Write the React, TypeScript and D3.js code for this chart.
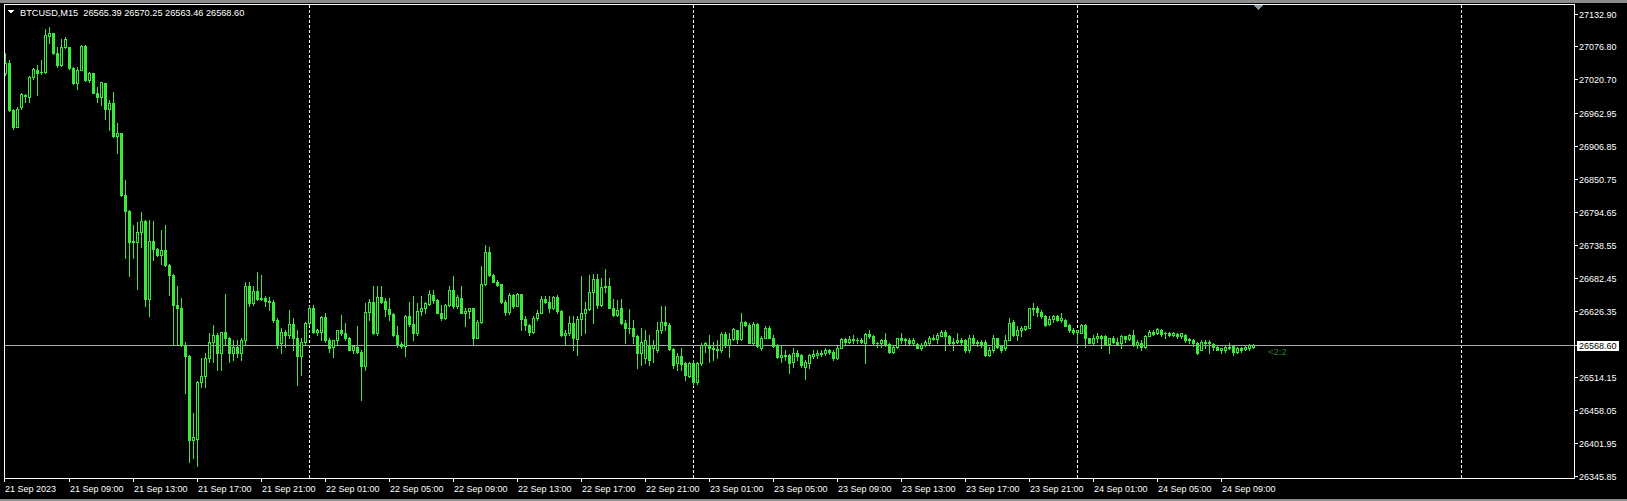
import React from "react";
import * as d3 from "d3";

// ---- data (BTCUSD M15, bar 0 = 21 Sep 2023 05:00) ----
const symbolTitle = "BTCUSD,M15";
const lastOHLC = ["26565.39", "26570.25", "26563.46", "26568.60"];

const openP: number[] = [
  27031,27048,26968,26940,26973,26992,26991,27024,27036,27033,27034,27095,27099,27065,27045,27076,27075,27040,27014,27037,
  27078,27020,27031,26998,26990,27014,26971,26981,26924,26929,26824,26797,26744,26744,26760,26779,26646,26746,26731,26722,
  26730,26705,26687,26636,26632,26568,26550,26406,26409,26506,26515,26546,26574,26585,26555,26590,26580,26555,26565,26555,
  26576,26668,26639,26661,26646,26649,26644,26642,26611,26572,26590,26585,26604,26580,26550,26574,26605,26631,26591,26591,
  26616,26577,26565,26576,26593,26588,26581,26560,26565,26557,26533,26625,26642,26588,26650,26644,26629,26621,26585,26570,
  26567,26618,26604,26589,26627,26632,26638,26653,26645,26623,26614,26636,26662,26635,26648,26623,26627,26631,26581,26608,
  26672,26726,26688,26676,26672,26642,26625,26653,26635,26655,26613,26602,26591,26615,26623,26646,26642,26631,26650,26627,
  26585,26588,26606,26579,26612,26623,26629,26659,26680,26636,26667,26668,26632,26619,26631,26606,26598,26598,26584,26555,
  26546,26568,26563,26560,26594,26608,26602,26561,26537,26550,26537,26516,26537,26505,26537,26568,26568,26563,26561,26559,
  26587,26568,26578,26593,26578,26608,26602,26572,26604,26563,26581,26598,26581,26568,26548,26551,26551,26540,26554,26551,
  26531,26538,26550,26551,26553,26554,26559,26557,26546,26564,26578,26574,26578,26577,26577,26572,26587,26583,26571,26572,
  26576,26570,26557,26565,26580,26576,26577,26571,26570,26564,26568,26572,26580,26578,26584,26591,26583,26571,26574,26577,
  26577,26559,26580,26571,26574,26574,26551,26559,26580,26567,26563,26577,26608,26585,26594,26595,26598,26631,26631,26625,
  26618,26604,26612,26617,26611,26611,26602,26594,26591,26589,26602,26580,26572,26581,26584,26584,26570,26580,26574,26572,
  26583,26578,26585,26568,26572,26565,26584,26591,26588,26594,26588,26589,26585,26587,26584,26585,26576,26576,26572,26560,
  26574,26571,26570,26565,26560,26559,26565,26567,26557,26563,26561,26563,26565.39,
];
const highP: number[] = [
  27065,27054,26970,26973,26998,26996,27026,27040,27045,27054,27106,27110,27100,27076,27089,27093,27076,27041,27042,27079,
  27079,27034,27032,27008,27017,27015,26986,27000,26946,26930,26849,26798,26773,26777,26795,26781,26781,26780,26733,26764,
  26773,26707,26689,26668,26648,26574,26552,26452,26507,26546,26554,26588,26602,26588,26591,26656,26582,26577,26577,26580,
  26676,26676,26668,26693,26687,26652,26650,26645,26614,26597,26594,26628,26614,26594,26580,26608,26635,26636,26595,26618,
  26622,26580,26576,26594,26619,26605,26582,26568,26600,26560,26640,26646,26668,26668,26668,26648,26648,26622,26601,26574,
  26619,26642,26651,26639,26651,26642,26662,26662,26646,26636,26638,26668,26686,26653,26668,26631,26632,26632,26611,26702,
  26739,26736,26689,26679,26673,26645,26657,26655,26657,26656,26617,26604,26617,26628,26652,26652,26651,26652,26653,26628,
  26594,26617,26617,26618,26685,26642,26688,26690,26690,26682,26697,26682,26646,26645,26646,26611,26629,26611,26585,26597,
  26594,26585,26577,26608,26634,26634,26605,26563,26554,26563,26540,26540,26543,26540,26571,26574,26585,26574,26577,26591,
  26591,26589,26597,26594,26622,26610,26606,26608,26606,26583,26600,26600,26585,26570,26568,26559,26553,26563,26560,26553,
  26543,26553,26559,26559,26560,26563,26561,26559,26567,26580,26580,26583,26585,26580,26580,26588,26594,26585,26574,26578,
  26588,26571,26568,26581,26588,26581,26580,26581,26571,26571,26576,26583,26585,26588,26594,26594,26585,26580,26589,26580,
  26578,26585,26585,26577,26577,26576,26565,26585,26581,26568,26585,26614,26611,26600,26600,26601,26632,26639,26635,26628,
  26619,26617,26619,26619,26622,26612,26604,26597,26594,26604,26604,26581,26585,26589,26585,26585,26581,26583,26580,26585,
  26584,26587,26593,26576,26576,26585,26593,26594,26598,26595,26591,26591,26591,26589,26589,26587,26581,26578,26574,26576,
  26576,26576,26571,26568,26564,26567,26571,26568,26565,26565,26567,26570,26570.25,
];
const lowP: number[] = [
  27028,26966,26937,26939,26971,26983,26983,27022,26994,27030,27032,27082,27064,27042,27044,27074,27038,27012,27005,27036,
  27018,27017,26997,26983,26977,26954,26934,26923,26895,26822,26716,26685,26716,26663,26736,26634,26617,26713,26720,26707,
  26702,26653,26568,26568,26567,26486,26369,26375,26362,26497,26497,26540,26540,26526,26526,26568,26540,26543,26548,26543,
  26568,26634,26636,26645,26645,26634,26628,26608,26563,26555,26565,26580,26560,26500,26517,26568,26602,26588,26585,26577,
  26574,26557,26548,26568,26585,26577,26559,26554,26554,26475,26526,26611,26587,26585,26639,26617,26611,26584,26565,26563,
  26550,26601,26576,26585,26619,26622,26636,26639,26622,26611,26612,26634,26632,26631,26622,26601,26614,26570,26580,26606,
  26671,26685,26675,26668,26639,26619,26621,26632,26634,26594,26594,26585,26589,26611,26622,26639,26625,26629,26622,26583,
  26568,26585,26560,26551,26585,26588,26628,26605,26631,26634,26659,26631,26617,26617,26604,26571,26588,26571,26529,26534,
  26537,26534,26540,26557,26588,26594,26560,26529,26526,26526,26509,26514,26500,26502,26534,26557,26540,26543,26546,26557,
  26565,26548,26577,26571,26577,26600,26571,26570,26565,26560,26580,26580,26565,26546,26540,26543,26520,26531,26543,26531,
  26510,26529,26546,26546,26550,26551,26553,26543,26544,26563,26570,26571,26571,26571,26572,26537,26581,26568,26565,26565,
  26567,26555,26555,26564,26572,26570,26570,26568,26563,26560,26567,26570,26576,26572,26583,26560,26570,26560,26571,26568,
  26557,26557,26568,26567,26565,26550,26550,26557,26563,26557,26560,26576,26583,26576,26583,26594,26597,26619,26617,26615,
  26601,26602,26608,26610,26608,26600,26591,26587,26571,26588,26565,26571,26568,26574,26563,26568,26555,26571,26568,26563,
  26574,26576,26567,26563,26559,26563,26583,26585,26587,26584,26580,26584,26583,26581,26581,26574,26571,26567,26553,26559,
  26563,26555,26559,26559,26555,26557,26561,26551,26555,26557,26559,26560,26563.46,
];
const closeP: number[] = [
  27048,26968,26940,26971,26996,26994,27025,27038,27032,27034,27096,27099,27065,27045,27076,27090,27040,27014,27037,27078,
  27020,27032,26998,26990,27016,26971,26981,26924,26930,26824,26797,26743,26746,26761,26779,26646,26746,26731,26722,26730,
  26705,26687,26636,26632,26568,26550,26406,26412,26506,26515,26546,26574,26585,26555,26590,26580,26555,26565,26555,26576,
  26668,26639,26661,26646,26649,26644,26642,26611,26568,26590,26585,26604,26580,26550,26574,26605,26631,26591,26593,26616,
  26577,26564,26576,26593,26589,26580,26560,26567,26557,26533,26625,26642,26588,26650,26642,26629,26621,26585,26570,26567,
  26618,26604,26589,26627,26632,26639,26655,26645,26623,26614,26636,26662,26635,26650,26623,26627,26631,26581,26608,26673,
  26726,26688,26676,26671,26642,26625,26653,26635,26655,26613,26602,26591,26615,26623,26646,26642,26631,26650,26627,26585,
  26588,26606,26580,26612,26622,26629,26659,26680,26636,26667,26669,26632,26619,26628,26606,26598,26597,26584,26555,26574,
  26577,26543,26568,26594,26608,26602,26561,26534,26550,26536,26517,26537,26505,26537,26568,26571,26563,26561,26559,26587,
  26568,26578,26595,26578,26608,26602,26572,26604,26567,26581,26598,26581,26567,26548,26551,26550,26538,26554,26550,26534,
  26540,26551,26553,26555,26554,26560,26557,26546,26564,26578,26574,26578,26577,26576,26573,26587,26584,26571,26572,26576,
  26570,26557,26565,26580,26576,26578,26571,26577,26564,26568,26574,26580,26578,26585,26591,26583,26571,26574,26577,26574,
  26559,26581,26571,26574,26570,26551,26560,26580,26565,26560,26577,26606,26585,26594,26597,26600,26631,26629,26625,26618,
  26602,26612,26617,26611,26615,26601,26594,26591,26593,26602,26580,26572,26581,26584,26581,26570,26580,26574,26570,26583,
  26578,26585,26568,26574,26565,26584,26591,26587,26595,26587,26589,26585,26589,26584,26588,26576,26578,26572,26555,26574,
  26571,26574,26565,26560,26563,26565,26563,26557,26563,26560,26565,26568,26568.60,
];

const priceTicks = [
  "27132.90","27076.80","27020.70","26962.95","26906.85","26850.75","26794.65",
  "26738.55","26682.45","26626.35","26514.15","26458.05","26401.95","26345.85",
];
const currentPrice = 26568.6;

const timeLabels = [
  "21 Sep 2023","21 Sep 09:00","21 Sep 13:00","21 Sep 17:00","21 Sep 21:00",
  "22 Sep 01:00","22 Sep 05:00","22 Sep 09:00","22 Sep 13:00","22 Sep 17:00","22 Sep 21:00",
  "23 Sep 01:00","23 Sep 05:00","23 Sep 09:00","23 Sep 13:00","23 Sep 17:00","23 Sep 21:00",
  "24 Sep 01:00","24 Sep 05:00","24 Sep 09:00",
];
const labelBarStep = 16; // one label every 4 hours of M15 bars
const daySeparatorBars = [76, 172, 268, 364];

const W = 1627;
const H = 501;
const FRAME = { left: 4, top: 4, right: 1574, bottom: 478 };
const FONT = "'Liberation Sans', Arial, sans-serif";
const LIME = "#3ce83c";

export default function App() {
  const n = openP.length;
  const x = d3.scaleLinear().domain([0, n - 1]).range([5, 5 + 4 * (n - 1)]);
  const y = d3
    .scaleLinear()
    .domain([26345.85, 27132.9])
    .range([475.6, 13.5]);

  const candles = d3.range(n).map((i) => {
    const cx = Math.round(x(i));
    const o = openP[i], c = closeP[i];
    const top = Math.round(y(Math.max(o, c)));
    const bot = Math.round(y(Math.min(o, c)));
    const hi = Math.round(y(highP[i]));
    const lo = Math.round(y(lowP[i]));
    const bull = c > o;
    return (
      <g key={i}>
        <line x1={cx + 0.5} x2={cx + 0.5} y1={hi} y2={lo + 1} stroke={LIME} strokeWidth={1} />
        {bot - top >= 1 ? (
          <rect x={cx - 0.5} y={top + 0.5} width={2} height={bot - top} fill={bull ? "#000" : LIME} stroke={LIME} strokeWidth={1} />
        ) : (
          <line x1={cx - 1} x2={cx + 2} y1={top + 0.5} y2={top + 0.5} stroke={LIME} strokeWidth={1} />
        )}
      </g>
    );
  });

  const yCur = Math.round(y(currentPrice)) + 0.5;
  const lastX = Math.round(x(n - 1));

  return (
    <div style={{ position: "fixed", left: 0, top: 0, width: W, height: H, background: "#000" }}>
      <svg width={W} height={H} style={{ display: "block" }} shapeRendering="crispEdges">
        <rect x={0} y={0} width={W} height={H} fill="#000" />
        <rect x={0} y={0} width={W} height={3} fill="#8c8c8c" />
        <rect x={0} y={H - 2} width={W} height={2} fill="#8c8c8c" />

        {/* day separators */}
        {daySeparatorBars.map((b) => {
          const sx = Math.round(x(b)) + 0.5;
          return (
            <line key={b} x1={sx} x2={sx} y1={FRAME.top + 1} y2={FRAME.bottom} stroke="#fff" strokeWidth={1} strokeDasharray="3,2" />
          );
        })}

        {/* bid line */}
        <line x1={FRAME.left} x2={FRAME.right} y1={yCur} y2={yCur} stroke="#a8a8a8" strokeWidth={1} />

        {candles}

        {/* frame */}
        <rect x={FRAME.left + 0.5} y={FRAME.top + 0.5} width={FRAME.right - FRAME.left} height={FRAME.bottom - FRAME.top} fill="none" stroke="#fff" strokeWidth={1} />

        {/* chart shift marker */}
        <path d="M1253,5 L1263,5 L1258,10 Z" fill="#8a98a6" />

        {/* header */}
        <path d="M8,10 L14,10 L11,14 Z" fill="#fff" />
        <text x={20} y={12.5} fill="#fff" fontFamily={FONT} fontSize={9.2} dominantBaseline="central" style={{ whiteSpace: "pre" }}>
          {`${symbolTitle}  ${lastOHLC.join(" ")}`}
        </text>

        {/* price axis */}
        {priceTicks.map((t) => {
          const ty = Math.round(y(+t)) + 0.5;
          return (
            <g key={t}>
              <line x1={FRAME.right} x2={FRAME.right + 4} y1={ty} y2={ty} stroke="#fff" strokeWidth={1} />
              <text x={1579} y={ty} fill="#fff" fontFamily={FONT} fontSize={9} dominantBaseline="central">
                {t}
              </text>
            </g>
          );
        })}
        <line x1={FRAME.right} x2={FRAME.right + 4} y1={yCur} y2={yCur} stroke="#fff" strokeWidth={1} />
        <rect x={1577} y={yCur - 5} width={42} height={10} fill="#fff" />
        <text x={1579} y={yCur} fill="#000" fontFamily={FONT} fontSize={9} dominantBaseline="central">
          {currentPrice.toFixed(2)}
        </text>

        {/* time axis */}
        {timeLabels.map((t, k) => {
          const tx = Math.round(x(k * labelBarStep)) - (k === 0 ? 1 : 0);
          return (
            <g key={t}>
              <line x1={tx + 0.5} x2={tx + 0.5} y1={FRAME.bottom} y2={FRAME.bottom + 4} stroke="#fff" strokeWidth={1} />
              <text x={tx + 1} y={488.5} fill="#fff" fontFamily={FONT} fontSize={9} dominantBaseline="central">
                {t}
              </text>
            </g>
          );
        })}

        {/* bars-count marker */}
        <text x={lastX + 15} y={yCur + 6} fill="#2f7a2f" fontFamily={FONT} fontSize={9.5} dominantBaseline="central">
          {"<2:2"}
        </text>
      </svg>
    </div>
  );
}
